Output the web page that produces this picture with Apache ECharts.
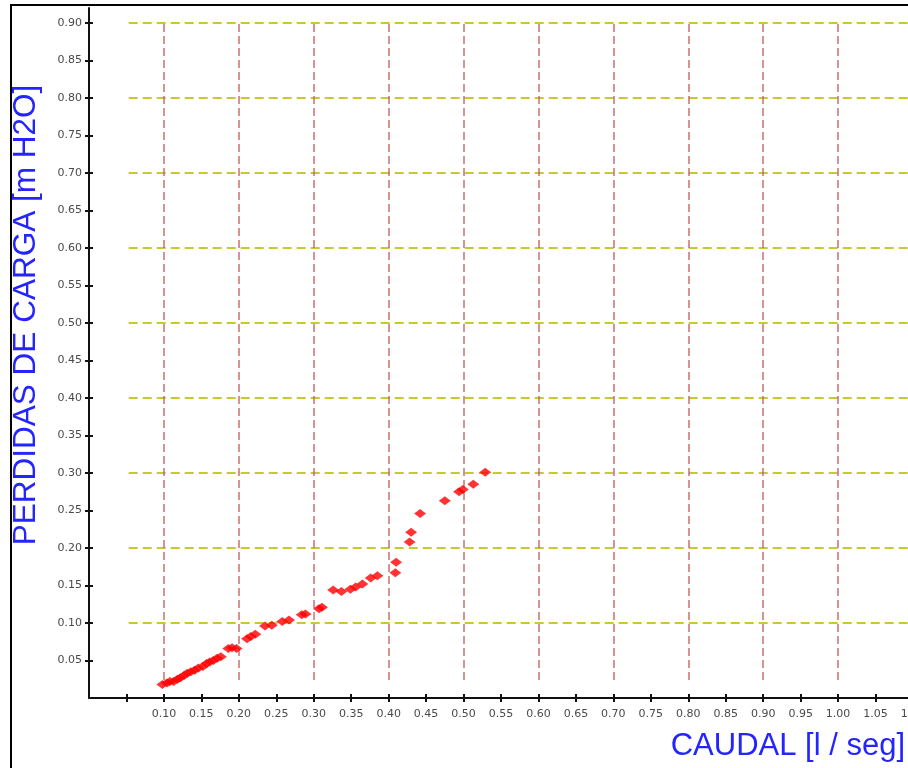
<!DOCTYPE html>
<html>
<head>
<meta charset="utf-8">
<script src="https://cdn.jsdelivr.net/npm/echarts@6/dist/echarts.min.js"></script>
<style>
  html, body { margin: 0; padding: 0; background: #ffffff; }
  #chart { width: 908px; height: 768px; }
</style>
</head>
<body>
<div id="chart"></div>
<script>
// Measured flow (l/s) and head loss (m H2O)
const caudal = [
  0.098, 0.104, 0.108, 0.113, 0.118, 0.122, 0.127, 0.131, 0.136, 0.141,
  0.146, 0.152, 0.157, 0.161, 0.166, 0.171, 0.176, 0.186, 0.191, 0.197,
  0.211, 0.216, 0.222, 0.235, 0.244, 0.258, 0.267, 0.284, 0.289, 0.307,
  0.311, 0.326, 0.337, 0.349, 0.356, 0.365, 0.376, 0.385, 0.409, 0.410,
  0.428, 0.430, 0.442, 0.475, 0.494, 0.499, 0.513, 0.529
];
const perdidas = [
  0.018, 0.020, 0.022, 0.022, 0.025, 0.027, 0.030, 0.033, 0.035, 0.037,
  0.040, 0.042, 0.046, 0.048, 0.050, 0.053, 0.055, 0.066, 0.067, 0.066,
  0.079, 0.082, 0.085, 0.096, 0.097, 0.102, 0.104, 0.111, 0.112, 0.119,
  0.121, 0.144, 0.142, 0.145, 0.148, 0.152, 0.160, 0.163, 0.167, 0.181,
  0.208, 0.221, 0.246, 0.263, 0.275, 0.278, 0.285, 0.301
];

// Axis ticks and labelled values
const xTicks = [0.05, 0.10, 0.15, 0.20, 0.25, 0.30, 0.35, 0.40, 0.45, 0.50, 0.55,
  0.60, 0.65, 0.70, 0.75, 0.80, 0.85, 0.90, 0.95, 1.00, 1.05, 1.10];
const xLabels = [0.10, 0.15, 0.20, 0.25, 0.30, 0.35, 0.40, 0.45, 0.50, 0.55,
  0.60, 0.65, 0.70, 0.75, 0.80, 0.85, 0.90, 0.95, 1.00, 1.05, 1.10];
const yTicks = [0.05, 0.10, 0.15, 0.20, 0.25, 0.30, 0.35, 0.40, 0.45, 0.50,
  0.55, 0.60, 0.65, 0.70, 0.75, 0.80, 0.85, 0.90];
const yLabels = yTicks;

// Dashed reference lines
const hGridValues = [0.1, 0.2, 0.3, 0.4, 0.5, 0.6, 0.7, 0.8, 0.9];
const vGridValues = [0.1, 0.2, 0.3, 0.4, 0.5, 0.6, 0.7, 0.8, 0.9, 1.0];
const hGridStart = 0.053, hGridEnd = 1.1;
const vGridStart = 0.024, vGridEnd = 0.9;

const X_MIN = 0, X_MAX = 1.1, Y_MIN = 0, Y_MAX = 0.92;

const points = caudal.map((x, i) => [x, perdidas[i]]);

const labelStyle = {
  color: '#4a4a4a',
  fontFamily: 'DejaVu Sans',
  fontSize: 11
};
const fmt = v => Number(v).toFixed(2);

const hLines = hGridValues.map(v => [{ coord: [hGridStart, v] }, { coord: [hGridEnd, v] }]);
const vLines = vGridValues.map(v => [{ coord: [v, vGridStart] }, { coord: [v, vGridEnd] }]);

const chart = echarts.init(document.getElementById('chart'), null, { renderer: 'canvas' });

chart.setOption({
  animation: false,
  backgroundColor: '#ffffff',
  grid: { left: 89, top: 8, width: 824, height: 690, containLabel: false, outerBoundsMode: 'none' },
  xAxis: [
    {
      type: 'value', min: X_MIN, max: X_MAX,
      axisLine: { show: true, onZero: false, lineStyle: { color: '#111111', width: 2 } },
      axisTick: { show: true, inside: false, length: 4, customValues: xTicks,
        lineStyle: { color: '#111111', width: 2 } },
      axisLabel: { show: true, margin: 11, customValues: xLabels, formatter: fmt, ...labelStyle },
      splitLine: { show: false }
    },
    {
      type: 'value', min: X_MIN, max: X_MAX, position: 'bottom',
      axisLine: { show: false },
      axisTick: { show: true, inside: true, length: 4, customValues: xTicks,
        lineStyle: { color: '#111111', width: 2 } },
      axisLabel: { show: false },
      splitLine: { show: false }
    }
  ],
  yAxis: [
    {
      type: 'value', min: Y_MIN, max: Y_MAX,
      axisLine: { show: true, onZero: false, lineStyle: { color: '#111111', width: 2 } },
      axisTick: { show: true, inside: false, length: 4, customValues: yTicks,
        lineStyle: { color: '#111111', width: 2 } },
      axisLabel: { show: true, margin: 7, customValues: yLabels, formatter: fmt, ...labelStyle },
      splitLine: { show: false }
    },
    {
      type: 'value', min: Y_MIN, max: Y_MAX, position: 'left',
      axisLine: { show: false },
      axisTick: { show: true, inside: true, length: 4, customValues: yTicks,
        lineStyle: { color: '#111111', width: 2 } },
      axisLabel: { show: false },
      splitLine: { show: false }
    }
  ],
  series: [
    {
      name: 'grid-h',
      type: 'line',
      data: [],
      silent: true,
      markLine: {
        silent: true, symbol: 'none', label: { show: false },
        lineStyle: { type: [9, 5], color: '#c8c830', width: 2 },
        data: hLines
      }
    },
    {
      name: 'grid-v',
      type: 'line',
      data: [],
      silent: true,
      markLine: {
        silent: true, symbol: 'none', label: { show: false },
        lineStyle: { type: [8, 4], color: '#c46060', width: 1.6, opacity: 0.85 },
        data: vLines
      }
    },
    {
      name: 'Pérdidas',
      type: 'scatter',
      data: points,
      symbol: 'path://M0,5 L2.6,2.4 L5,0 L7.4,2.4 L10,5 L7.4,7.6 L5,10 L2.6,7.6 Z',
      symbolSize: [12, 9],
      itemStyle: { color: '#ff0000' },
      z: 5
    }
  ],
  graphic: [
    {
      type: 'rect',
      shape: { x: 11, y: 5, width: 1200, height: 1200 },
      style: { fill: 'none', stroke: '#000000', lineWidth: 2 },
      silent: true
    },
    {
      type: 'text',
      x: 26, y: 315,
      rotation: Math.PI / 2,
      style: {
        text: 'PERDIDAS DE CARGA [m H2O]',
        fill: '#2424ff',
        font: '31.5px "Liberation Sans", Arial, sans-serif',
        textAlign: 'center',
        textVerticalAlign: 'middle'
      }
    },
    {
      type: 'text',
      x: 905, y: 746,
      style: {
        text: 'CAUDAL [l / seg]',
        fill: '#2424ff',
        font: '31px "Liberation Sans", Arial, sans-serif',
        textAlign: 'right',
        textVerticalAlign: 'middle'
      }
    }
  ]
});
</script>
</body>
</html>
